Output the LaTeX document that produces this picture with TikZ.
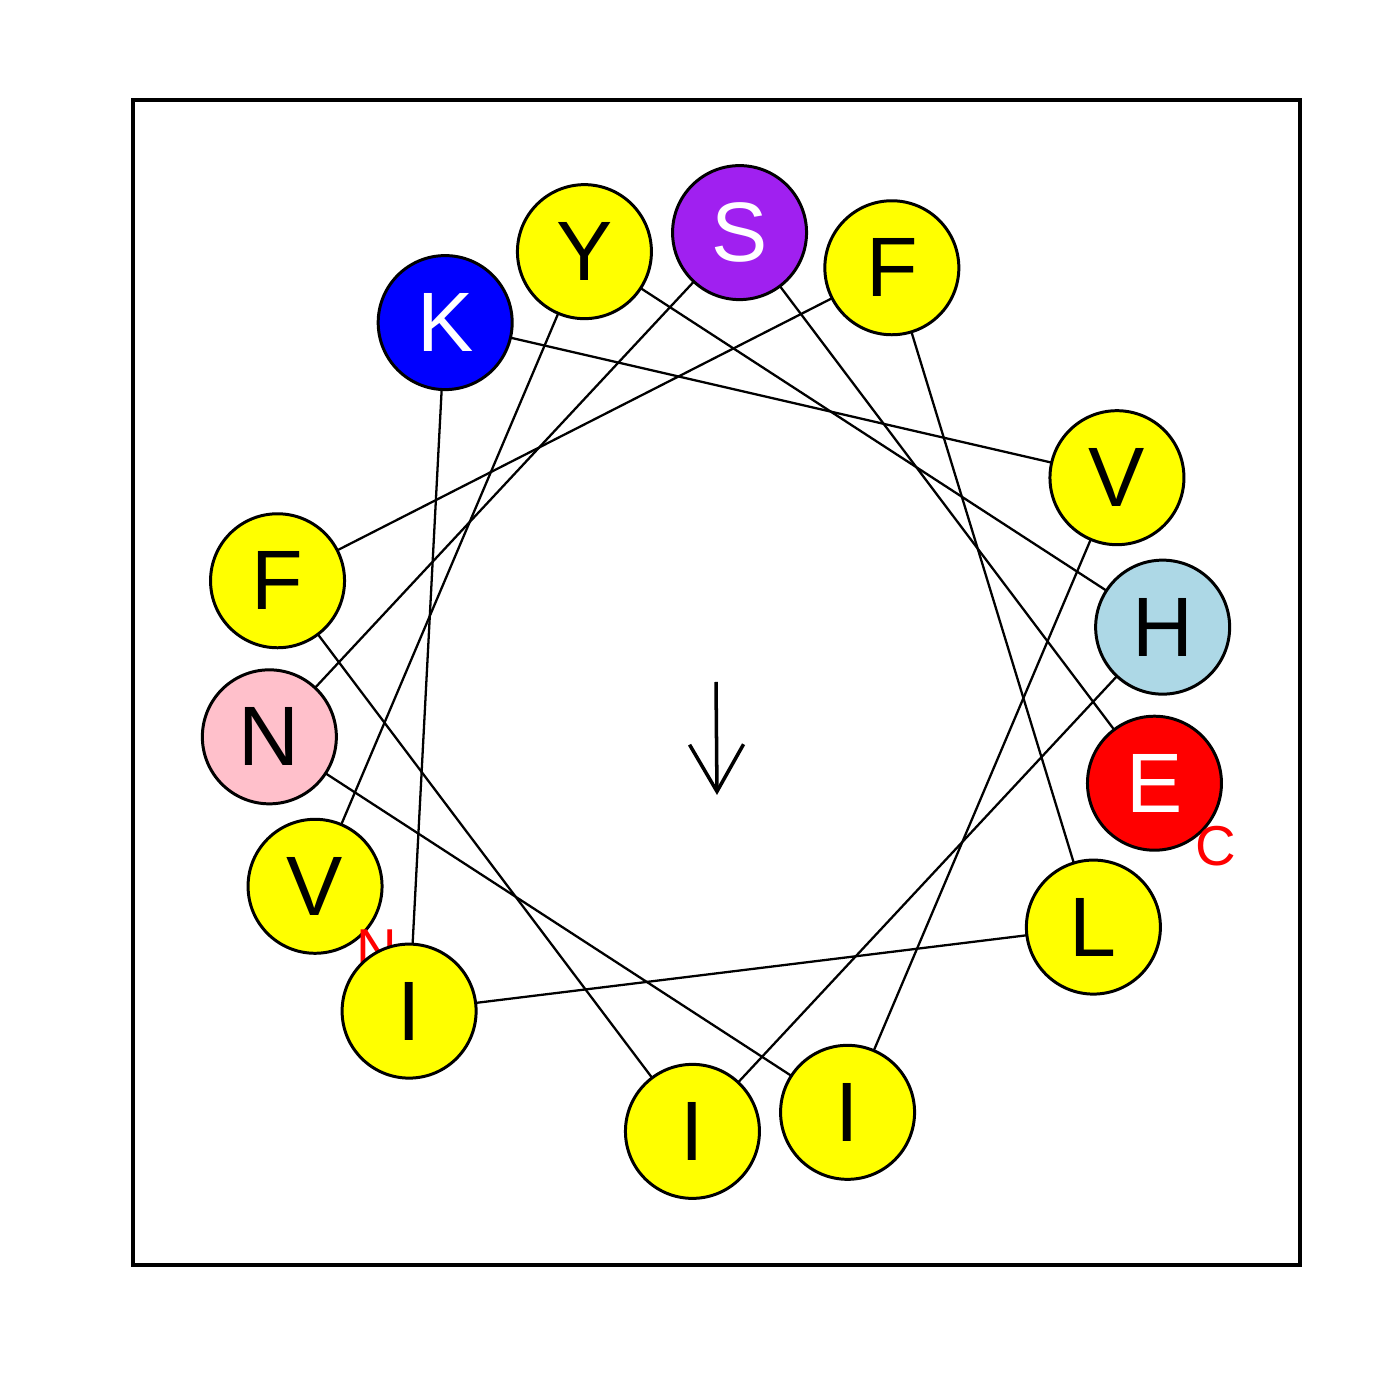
\documentclass[tikz,border=0pt]{standalone}
\usepackage{fontspec}
\setmainfont{Liberation Sans}
\usetikzlibrary{arrows.meta,backgrounds,calc}
\definecolor{ryellow}{RGB}{255,255,0}
\definecolor{rblue}{RGB}{0,0,255}
\definecolor{rred}{RGB}{255,0,0}
\definecolor{rpurple}{RGB}{160,32,240}
\definecolor{rlightblue}{RGB}{173,216,230}
\definecolor{rpink}{RGB}{255,192,203}
\begin{document}
\begin{tikzpicture}[
  res/.style={circle, draw=black, line width=0.85pt, minimum size=1.34cm, inner sep=0pt,
              font=\fontsize{24}{24}\selectfont},
  link/.style={line width=0.65pt, draw=black},
  endlabel/.style={text=rred, inner sep=0pt, font=\fontsize{16}{16}\selectfont},
  frame/.style={line width=0.9pt, draw=black},
  moment/.style={line width=1pt, -{Straight Barb[length=4.7mm,width=5.4mm,line width=1pt]}}]
\useasboundingbox (0,0) rectangle (14,14);
\draw[frame] (1.33,1.35) rectangle (13.0,13.0);
\coordinate (ctr) at (7.16,7.18);
\node[res, fill=ryellow, text=black] (r0) at ($(ctr)+(207:4.5)$) {V};
\node[endlabel] (nterm) at (3.77,4.51) {N};
\foreach \k/\aa/\col/\tc in {1/Y/ryellow/black, 2/H/rlightblue/black, 3/I/ryellow/black,
  4/F/ryellow/black, 5/F/ryellow/black, 6/L/ryellow/black, 7/I/ryellow/black,
  8/K/rblue/white, 9/V/ryellow/black, 10/I/ryellow/black, 11/N/rpink/black,
  12/S/rpurple/white, 13/E/rred/white} {
  \node[res, fill=\col, text=\tc] (r\k) at ($(ctr)+({207-100*\k}:4.5)$) {\aa};
}
\node[endlabel] (cterm) at (12.16,5.54) {C};
\begin{scope}[on background layer]
  \foreach \k [evaluate=\k as \n using int(\k+1)] in {0,...,12} {
    \draw[link] (r\k.center) -- (r\n.center);
  }
\end{scope}
\coordinate (mtip) at (7.17,6.05);
\draw[moment] (ctr) -- (mtip);
\end{tikzpicture}
\end{document}
